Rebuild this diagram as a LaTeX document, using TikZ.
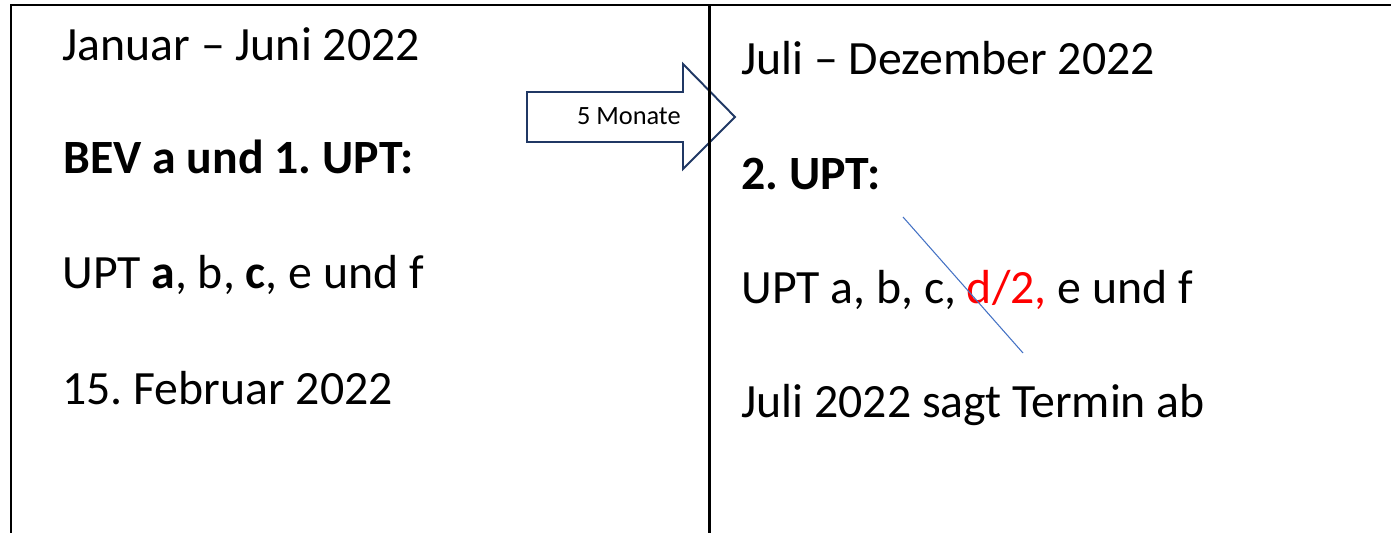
\documentclass[tikz,border=0pt]{standalone}
\usepackage{fontspec}
\setmainfont{Carlito}
\frenchspacing
\definecolor{arrowblue}{HTML}{203864}
\definecolor{strikeblue}{HTML}{4472C4}
\begin{document}
\begin{tikzpicture}[x=0.02cm, y=-0.02cm,
	txt/.style={anchor=base west, inner sep=0pt, font=\fontsize{27.2}{32}\selectfont},
	frame/.style={line width=1.7pt, black}]
\useasboundingbox (0,0) rectangle (1391,533);

\draw[arrowblue, line width=1.1pt, fill=white, line join=miter]
	(527,92) -- (683,92) -- (683,64) -- (735,117) -- (683,169) -- (683,142) -- (527,142) -- cycle;
\node[anchor=base east, inner sep=0pt, font=\fontsize{15}{18}\selectfont] (gap) at (681,125) {5 Monate};

\draw[frame] (11,540) -- (11,5) -- (1400,5);
\draw[frame] (709,5) -- (709,540);

\node[txt] (l1) at (62,61) {Januar – Juni 2022};
\node[txt] (l2) at (63,174) {\bfseries BEV a und 1. UPT:};
\node[txt] (l3) at (62,288) {UPT \textbf{a}, b, \textbf{c}, e und f};
\node[txt] (l4) at (62,404) {15. Februar 2022};

\node[txt] (r1) at (741,75) {Juli – Dezember 2022};
\node[txt] (r2) at (741,190) {\bfseries 2. UPT:};
\node[txt] (r3) at (741,303) {UPT a, b, c, \textcolor{red}{d/2,} e und f};
\node[txt] (r4) at (741,417) {Juli 2022 sagt Termin ab};

\coordinate (s1) at (903,217);
\coordinate (s2) at (1023,353);
\draw[strikeblue, line width=0.6pt] (s1) -- (s2);
\end{tikzpicture}
\end{document}
